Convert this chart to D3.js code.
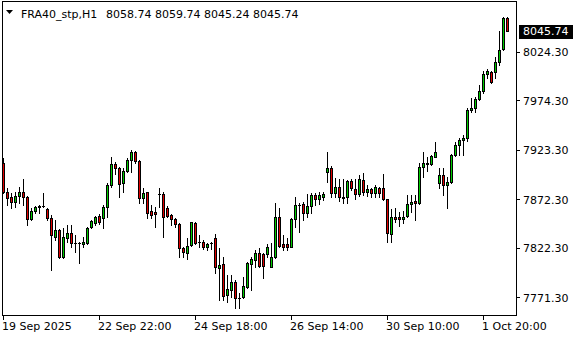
<!DOCTYPE html>
<html><head><meta charset="utf-8">
<script src="https://cdn.jsdelivr.net/npm/d3@7"></script>
<style>html,body{margin:0;padding:0;background:#fff;}svg{display:block;}</style>
</head><body>
<script>
const symbolTitle = "FRA40_stp,H1";
const titleValues = "8058.74 8059.74 8045.24 8045.74";
const open = [7909.7,7879.8,7874.7,7869.5,7875.7,7879.8,7874.7,7852.0,7860.3,7864.6,
7865.4,7862.3,7853.1,7833.5,7840.7,7812.9,7832.5,7837.6,7827.3,7827.0,
7826.3,7827.3,7843.8,7847.9,7855.1,7853.1,7864.4,7887.1,7908.7,7904.6,
7889.1,7901.5,7912.8,7921.0,7911.8,7873.7,7879.8,7860.3,7859.2,7877.5,
7877.8,7863.4,7856.2,7852.0,7846.9,7822.2,7817.0,7825.2,7847.9,7828.0,
7828.3,7823.2,7826.8,7832.5,7801.6,7805.7,7773.8,7778.9,7787.1,7770.7,
7771.7,7782.0,7805.7,7809.8,7817.0,7816.0,7816.0,7802.6,7812.9,7854.1,
7826.3,7826.3,7823.2,7852.0,7866.5,7867.5,7858.2,7865.4,7876.8,7872.6,
7874.7,7900.4,7904.6,7878.8,7885.0,7874.7,7874.7,7891.2,7882.9,7877.8,
7892.2,7879.8,7882.9,7878.8,7884.0,7884.0,7872.6,7836.6,7854.1,7854.1,
7852.0,7855.1,7867.5,7870.6,7868.5,7905.6,7908.7,7908.7,7915.9,7889.1,
7897.4,7887.1,7890.1,7918.0,7928.3,7933.4,7935.5,7964.3,7966.4,7975.6,
7983.9,8001.4,8003.4,8003.4,8013.7,8027.1,8058.74];
const high = [7914.9,7884.0,7878.8,7879.8,7885.0,7893.2,7875.5,7863.4,7865.4,7866.5,
7878.8,7863.4,7856.2,7851.0,7841.5,7842.8,7845.9,7845.9,7835.6,7828.3,
7833.5,7843.8,7851.0,7855.1,7857.2,7866.5,7889.1,7915.9,7910.7,7905.2,
7904.6,7914.9,7923.1,7922.1,7912.3,7884.0,7880.3,7866.5,7864.4,7884.0,
7879.8,7865.4,7857.2,7853.1,7847.4,7823.2,7832.5,7849.4,7848.9,7835.6,
7830.4,7827.3,7828.3,7836.6,7822.2,7812.9,7794.4,7794.4,7789.2,7775.8,
7792.3,7807.7,7812.9,7820.1,7822.2,7817.0,7826.3,7827.3,7868.5,7863.4,
7835.6,7832.5,7853.1,7874.7,7868.5,7869.5,7877.8,7878.8,7878.8,7879.8,
7879.8,7921.0,7906.6,7894.3,7893.2,7893.2,7892.2,7893.2,7893.2,7897.4,
7899.4,7887.1,7884.0,7887.1,7885.0,7898.4,7873.1,7862.3,7863.4,7859.2,
7860.3,7876.8,7876.8,7876.8,7909.7,7921.0,7915.9,7918.0,7931.3,7904.6,
7904.6,7895.3,7919.0,7931.3,7935.5,7938.6,7966.4,7976.7,7977.7,7990.1,
8004.5,8006.5,8004.5,8018.9,8045.7,8059.7,8059.74];
const low = [7878.8,7866.5,7863.4,7864.4,7868.5,7866.5,7845.9,7851.0,7858.2,7858.2,
7864.4,7851.0,7799.5,7830.4,7811.9,7811.9,7828.3,7823.2,7818.0,7806.7,
7823.2,7826.3,7842.8,7845.9,7846.9,7842.8,7854.1,7885.0,7898.4,7874.7,
7879.8,7900.4,7900.4,7909.7,7868.5,7868.5,7853.1,7853.1,7843.8,7864.4,
7833.5,7854.1,7845.9,7843.8,7812.9,7812.9,7810.8,7824.2,7826.3,7823.2,
7821.1,7820.1,7821.1,7796.4,7768.6,7768.6,7766.5,7771.7,7760.4,7760.4,
7770.7,7781.0,7778.9,7802.6,7803.1,7791.3,7812.9,7802.1,7811.9,7823.2,
7820.1,7820.1,7822.7,7843.8,7838.6,7851.0,7854.1,7858.2,7866.5,7867.5,
7871.6,7890.1,7874.7,7874.7,7870.6,7868.5,7868.5,7881.9,7872.6,7875.7,
7876.8,7875.7,7874.7,7874.7,7874.7,7871.6,7828.3,7828.3,7848.9,7844.8,
7847.9,7854.1,7859.2,7851.0,7867.5,7895.3,7901.5,7907.7,7915.4,7884.0,
7876.8,7863.4,7889.1,7916.9,7918.0,7918.0,7932.4,7962.2,7962.2,7974.6,
7981.8,7997.3,7992.1,7997.3,8010.7,8026.1,8045.24];
const close = [7879.8,7873.7,7869.5,7875.7,7879.8,7874.7,7852.0,7860.3,7864.4,7865.4,
7865.0,7853.1,7835.6,7840.7,7812.9,7833.5,7837.6,7827.3,7827.0,7827.4,
7828.3,7842.8,7850.0,7854.1,7848.9,7864.4,7887.1,7908.7,7904.6,7888.1,
7901.5,7912.8,7921.0,7911.8,7873.7,7878.8,7858.2,7856.2,7857.2,7877.8,
7854.1,7855.1,7852.0,7846.9,7822.2,7818.0,7824.2,7848.9,7827.3,7828.3,
7823.2,7826.3,7827.3,7802.6,7804.7,7772.7,7779.9,7787.1,7770.7,7771.0,
7783.0,7806.7,7810.8,7817.0,7803.6,7803.6,7823.2,7812.9,7854.1,7824.2,
7823.2,7823.2,7852.0,7866.5,7866.9,7858.2,7865.4,7876.8,7872.6,7876.8,
7877.8,7904.6,7878.8,7885.0,7874.7,7873.7,7891.2,7884.0,7877.8,7893.2,
7879.8,7882.9,7878.8,7885.0,7878.8,7872.6,7837.6,7854.1,7852.0,7852.0,
7854.1,7867.5,7869.5,7868.5,7905.6,7909.7,7909.7,7916.9,7921.0,7897.4,
7887.1,7890.1,7918.0,7928.3,7933.4,7935.5,7964.3,7966.4,7975.6,7983.9,
8001.4,8004.5,7993.1,8013.7,8026.1,8058.7,8045.74];
const priceTicks = [8024.30, 7974.30, 7923.30, 7872.30, 7822.30, 7771.30];
const timeLabels = ["19 Sep 2025","22 Sep 22:00","24 Sep 18:00","26 Sep 14:00","30 Sep 10:00","1 Oct 20:00"];
const timeTickIndex = [0, 24, 48, 72, 96, 120];
const lastPrice = 8045.74;

const W = 580, H = 340;
const FONT = "DejaVu Sans";
const BULL = "#00cc00", BEAR = "#e00000";

const svg = d3.select("body").append("svg").attr("width", W).attr("height", H)
  .attr("shape-rendering", "crispEdges");

const x = d3.scaleLinear().domain([0, open.length - 1]).range([3, 3 + 4 * (open.length - 1)]);
const y = d3.scaleLinear().domain([7771.3, 8024.3]).range([297.38, 51.75]);

const data = open.map((o, i) => ({i, o, h: high[i], l: low[i], c: close[i]}));

// frame
const frame = svg.append("g").attr("stroke", "#000").attr("stroke-width", 1);
frame.append("line").attr("x1", 2.5).attr("x2", 2.5).attr("y1", 1).attr("y2", 316);
frame.append("line").attr("x1", 2).attr("x2", 517).attr("y1", 1.5).attr("y2", 1.5);
frame.append("line").attr("x1", 516.5).attr("x2", 516.5).attr("y1", 1).attr("y2", 316);
frame.append("line").attr("x1", 2).attr("x2", 517).attr("y1", 315.5).attr("y2", 315.5);

// candles
const cg = svg.append("g");
const candle = cg.selectAll("g.c").data(data).join("g").attr("class", "c");
candle.append("rect")
  .attr("x", d => Math.round(x(d.i)))
  .attr("width", 1)
  .attr("y", d => Math.round(y(d.h)))
  .attr("height", d => Math.max(1, Math.round(y(d.l)) - Math.round(y(d.h)) + 1))
  .attr("fill", "#000");
candle.append("rect")
  .attr("x", d => Math.round(x(d.i)) - 1)
  .attr("width", 3)
  .attr("y", d => Math.round(y(Math.max(d.o, d.c))))
  .attr("height", d => Math.max(1, Math.round(y(Math.min(d.o, d.c))) - Math.round(y(Math.max(d.o, d.c))) + 1))
  .attr("fill", "#000");
candle.filter(d => Math.round(y(Math.min(d.o, d.c))) - Math.round(y(Math.max(d.o, d.c))) >= 2)
  .append("rect")
  .attr("x", d => Math.round(x(d.i)))
  .attr("width", 1)
  .attr("y", d => Math.round(y(Math.max(d.o, d.c))) + 1)
  .attr("height", d => Math.round(y(Math.min(d.o, d.c))) - Math.round(y(Math.max(d.o, d.c))) - 1)
  .attr("fill", d => d.c >= d.o ? BULL : BEAR);

// right price axis
const pa = svg.append("g");
pa.selectAll("line").data(priceTicks).join("line")
  .attr("x1", 517).attr("x2", 520)
  .attr("y1", d => Math.round(y(d)) + 0.5).attr("y2", d => Math.round(y(d)) + 0.5)
  .attr("stroke", "#000");
pa.selectAll("text").data(priceTicks).join("text")
  .attr("x", 523).attr("y", d => y(d) + 4.5)
  .attr("font-family", FONT).attr("font-size", 11).attr("fill", "#000")
  .text(d => d.toFixed(2));

// last price tag
const ly = Math.round(y(lastPrice));
svg.append("rect").attr("x", 519).attr("y", ly - 6).attr("width", 54).attr("height", 14).attr("fill", "#000");
svg.append("text").attr("x", 523).attr("y", y(lastPrice) + 4.5)
  .attr("font-family", FONT).attr("font-size", 11).attr("fill", "#fff")
  .text(lastPrice.toFixed(2));

// time axis
const ta = svg.append("g");
ta.selectAll("line").data(timeTickIndex).join("line")
  .attr("x1", d => Math.round(x(d)) + 0.5).attr("x2", d => Math.round(x(d)) + 0.5)
  .attr("y1", 316).attr("y2", 320).attr("stroke", "#000");
ta.selectAll("text").data(timeTickIndex).join("text")
  .attr("x", d => x(d) - 1).attr("y", 330)
  .attr("font-family", FONT).attr("font-size", 11).attr("fill", "#000")
  .text((d, k) => timeLabels[k]);

// title
svg.append("path").attr("d", "M6,10 L13,10 L9.5,14 Z").attr("fill", "#000").attr("shape-rendering", "auto");
svg.append("text").attr("x", 21).attr("y", 18)
  .attr("font-family", FONT).attr("font-size", 11).attr("fill", "#000").text(symbolTitle);
svg.append("text").attr("x", 106).attr("y", 18)
  .attr("font-family", FONT).attr("font-size", 11).attr("fill", "#000").attr("style", "white-space:pre")
  .text(titleValues);
</script>
</body></html>
